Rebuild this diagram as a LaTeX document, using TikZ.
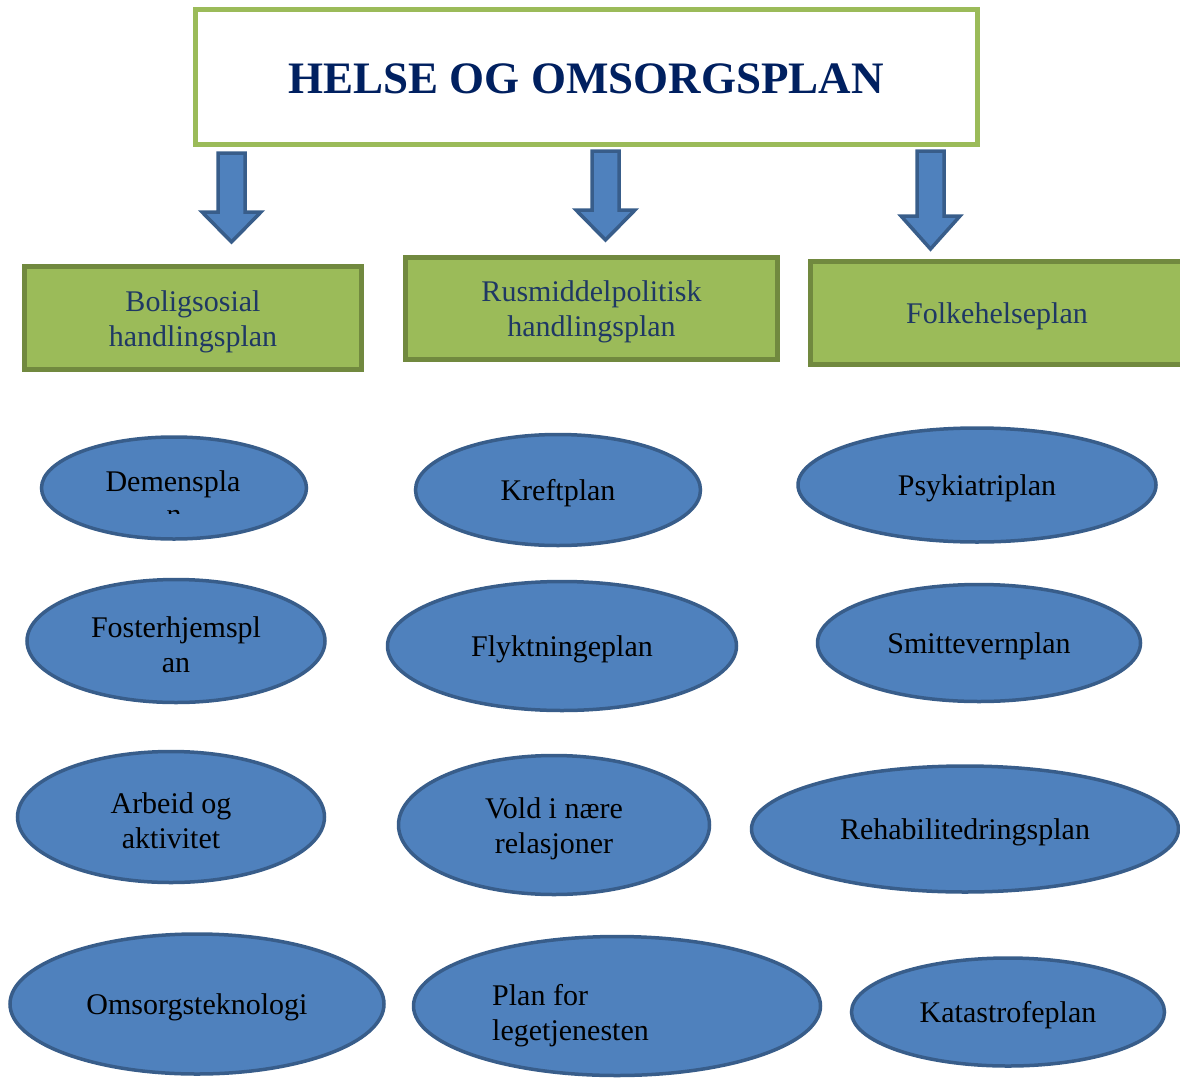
\documentclass[tikz,border=0pt]{standalone}
\usepackage{fontspec}
\setmainfont{Liberation Serif}
\usetikzlibrary{shapes.geometric}
\definecolor{lgreen}{HTML}{9BBB59}
\definecolor{dgreen}{HTML}{71893F}
\definecolor{bfill}{HTML}{4F81BD}
\definecolor{bline}{HTML}{385D8A}
\definecolor{navy}{HTML}{002060}
\definecolor{boxtext}{HTML}{1F3864}
\begin{document}
\begin{tikzpicture}[x=1pt,y=-1pt,
  titlebox/.style={draw=lgreen, line width=5pt, fill=white, inner sep=0pt},
  titletext/.style={text=navy, font=\fontsize{45}{50}\selectfont\bfseries, inner sep=0pt, yshift=-2pt},
  planbox/.style={draw=dgreen, fill=lgreen, line width=5pt, inner sep=0pt},
  plantext/.style={text=boxtext, font=\fontsize{30}{35}\selectfont, align=center, inner sep=0pt, yshift=-3.5pt},
  oval/.style={ellipse, draw=bline, fill=bfill, line width=3.5pt, inner sep=0pt},
  ovaltext/.style={font=\fontsize{30}{35}\selectfont, align=center, inner sep=0pt, yshift=-3.5pt},
  blockarrow/.style={draw=bline, fill=bfill, line width=3.5pt, line join=miter}]
\useasboundingbox (0,0) rectangle (1180,1081);
\clip (0,0) rectangle (1180,1081);

% title
\node[titlebox, minimum width=782pt, minimum height=134pt] (title) at (586,77) {};
\node[titletext] (titleT) at (title) {HELSE OG OMSORGSPLAN};

% plan boxes
\node[planbox, minimum width=337pt, minimum height=103pt] (bolig) at (193,318) {};
\node[plantext] (boligT) at (bolig) {Boligsosial\\handlingsplan};
\node[planbox, minimum width=372pt, minimum height=102pt] (rus) at (591.5,308.5) {};
\node[plantext] (rusT) at (rus) {Rusmiddelpolitisk\\handlingsplan};
\node[planbox, minimum width=373pt, minimum height=103pt] (folk) at (997,313) {};
\node[plantext] (folkT) at (folk) {Folkehelseplan};

% block arrows
\draw[blockarrow] (218,153) -- (245,153) -- (245,212) -- (261,212) -- (231.5,242) -- (202,212) -- (218,212) -- cycle;
\draw[blockarrow] (592,151) -- (619,151) -- (619,210) -- (635,210) -- (605.5,240) -- (576,210) -- (592,210) -- cycle;
\draw[blockarrow] (917,151) -- (944,151) -- (944,216) -- (960,216) -- (930.5,249) -- (901,216) -- (917,216) -- cycle;

% ellipses
\node[oval, minimum width=265pt, minimum height=102pt] (demens) at (174,488) {};
\node[ovaltext] (demensT) at (173,481) {Demenspla};
\begin{scope}
  \clip (160,509.5) rectangle (190,513);
  \node[ovaltext, anchor=base] (demensN) at (174,520.5) {n};
\end{scope}
\node[oval, minimum width=285pt, minimum height=111pt] (kreft) at (558,490) {};
\node[ovaltext] (kreftT) at (kreft) {Kreftplan};
\node[oval, minimum width=358pt, minimum height=114pt] (psyk) at (977,485) {};
\node[ovaltext] (psykT) at (psyk) {Psykiatriplan};

\node[oval, minimum width=298pt, minimum height=123pt] (foster) at (176,641) {};
\node[ovaltext] (fosterT) at (foster) {Fosterhjemspl\\an};
\node[oval, minimum width=349pt, minimum height=129pt] (flykt) at (562,646) {};
\node[ovaltext] (flyktT) at (flykt) {Flyktningeplan};
\node[oval, minimum width=323pt, minimum height=117pt] (smitte) at (979,643) {};
\node[ovaltext] (smitteT) at (smitte) {Smittevernplan};

\node[oval, minimum width=307pt, minimum height=131pt] (arbeid) at (171,817) {};
\node[ovaltext] (arbeidT) at (arbeid) {Arbeid og\\aktivitet};
\node[oval, minimum width=311pt, minimum height=139pt] (vold) at (554,825) {};
\node[ovaltext] (voldT) at (vold) {Vold i nære\\relasjoner};
\node[oval, minimum width=427pt, minimum height=126pt] (rehab) at (965,829) {};
\node[ovaltext] (rehabT) at (rehab) {Rehabilitedringsplan};

\node[oval, minimum width=374pt, minimum height=140pt] (omsorg) at (197,1004) {};
\node[ovaltext] (omsorgT) at (omsorg) {Omsorgsteknologi};
\node[oval, minimum width=407pt, minimum height=139pt] (lege) at (617,1006) {};
\node[ovaltext, align=left, anchor=west] (legeT) at (492,1012) {Plan for\\legetjenesten};
\node[oval, minimum width=313pt, minimum height=108pt] (kata) at (1008,1012) {};
\node[ovaltext] (kataT) at (kata) {Katastrofeplan};
\end{tikzpicture}
\end{document}
